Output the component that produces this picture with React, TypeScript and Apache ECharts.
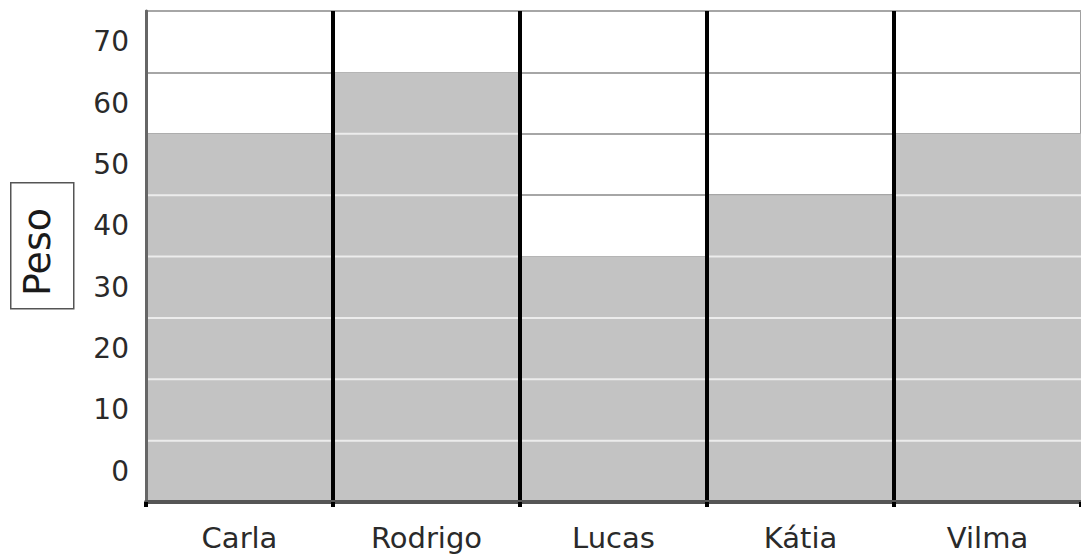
import React, { useEffect, useRef } from "react";
import * as echarts from "echarts";

const categories = ["Carla", "Rodrigo", "Lucas", "Kátia", "Vilma"];
// bar heights read on the gridline scale (bottom = 0, one gridline = 10)
const barValues = [60, 70, 40, 50, 60];
const yTickLabels = ["0", "10", "20", "30", "40", "50", "60", "70"];
const gridTicks = [10, 20, 30, 40, 50, 60, 70];
const axisTitle = "Peso";

const FONT = "DejaVu Sans";
const BAR = "#c3c3c3";

export default function App() {
  const ref = useRef<HTMLDivElement>(null);
  useEffect(() => {
    if (!ref.current) return;
    const chart = echarts.init(ref.current, null, { renderer: "svg" });
    const option: any = {
      animation: false,
      backgroundColor: "#ffffff",
      grid: {
        left: 146,
        right: -2,
        top: 11,
        bottom: 57,
        show: true,
        borderColor: "#a0a0a0",
        borderWidth: 2,
        backgroundColor: "#ffffff",
      },
      xAxis: [
        {
          type: "category",
          data: categories,
          z: 5,
          axisLine: { show: true, lineStyle: { color: "#555555", width: 4 } },
          axisTick: { show: true, length: 5, lineStyle: { color: "#000000", width: 4 } },
          axisLabel: {
            color: "#2a2a2a",
            fontFamily: FONT,
            fontSize: 29,
            margin: 21,
          },
          splitLine: {
            show: true,
            showMinLine: false,
            showMaxLine: false,
            lineStyle: { color: "#000000", width: 4 },
          },
        },
      ],
      yAxis: [
        {
          type: "value",
          min: 0,
          max: 80,
          interval: 10,
          z: 0,
          axisLine: { show: false },
          axisTick: { show: false },
          axisLabel: { show: false },
          splitLine: { show: true, lineStyle: { color: "#a6a6a6", width: 2 } },
        },
        {
          type: "category",
          data: yTickLabels,
          position: "left",
          z: 5,
          boundaryGap: true,
          axisLine: { show: true, lineStyle: { color: "#666666", width: 3 } },
          axisTick: { show: false },
          splitLine: { show: false },
          axisLabel: {
            color: "#2a2a2a",
            fontFamily: FONT,
            fontSize: 28,
            margin: 17,
          },
        },
      ],
      series: [
        {
          type: "custom",
          xAxisIndex: 0,
          yAxisIndex: 0,
          z: 2,
          data: barValues.map((v, i) => [i, v]),
          encode: { x: 0, y: 1 },
          renderItem: (params: any, api: any) => {
            const idx = api.value(0);
            const v = api.value(1);
            const top = api.coord([idx, v]);
            const base = api.coord([idx, 0]);
            const w = api.size([1, 0])[0];
            const x0 = top[0] - w / 2;
            const children: any[] = [
              {
                type: "rect",
                shape: { x: x0, y: top[1], width: w, height: base[1] - top[1] },
                style: { fill: BAR },
              },
            ];
            gridTicks.forEach((t) => {
              if (t > 0 && t < v) {
                const p = api.coord([idx, t]);
                children.push({
                  type: "line",
                  shape: { x1: x0, y1: p[1], x2: x0 + w, y2: p[1] },
                  style: { stroke: "#ececec", lineWidth: 2 },
                });
              }
            });
            return { type: "group", children };
          },
        },
      ],
      graphic: [
        {
          type: "rect",
          left: 10,
          top: 182,
          shape: { width: 63, height: 126 },
          style: { fill: "#ffffff", stroke: "#555555", lineWidth: 1.5 },
          z: 10,
        },
        {
          type: "text",
          x: 37,
          y: 252,
          rotation: Math.PI / 2,
          z: 11,
          style: {
            text: axisTitle,
            fontFamily: FONT,
            fontSize: 38,
            fill: "#1a1a1a",
            align: "center",
            verticalAlign: "middle",
          },
        },
      ],
    };
    chart.setOption(option);
    return () => chart.dispose();
  }, []);
  return (
    <div
      ref={ref}
      style={{ position: "fixed", left: 0, top: 0, width: 1081, height: 559 }}
    />
  );
}
